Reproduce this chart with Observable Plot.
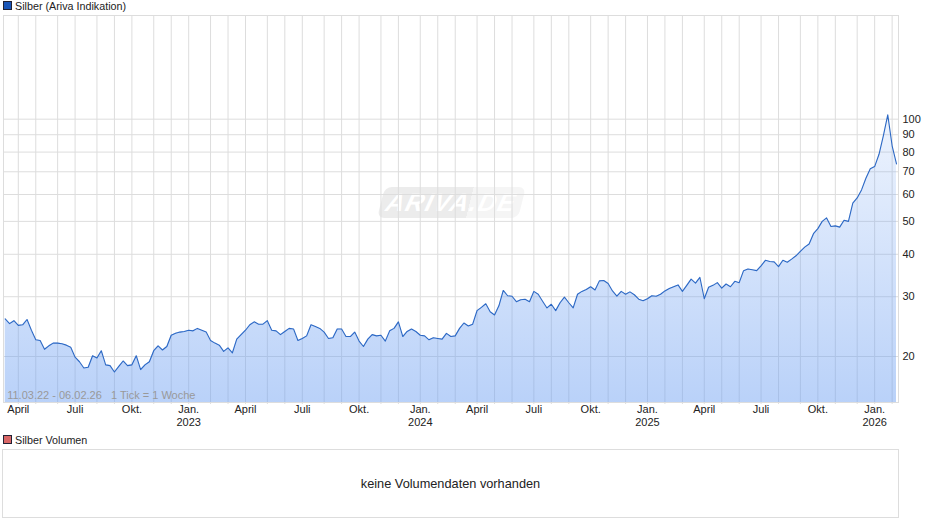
<!DOCTYPE html>
<html lang="de">
<head>
<meta charset="utf-8">
<script src="https://cdn.jsdelivr.net/npm/d3@7"></script>
<script src="https://cdn.jsdelivr.net/npm/@observablehq/plot@0.6"></script>
<style>
html,body{margin:0;padding:0;background:#fff;width:940px;height:526px;overflow:hidden;font-family:"Liberation Sans",Arial,sans-serif;color:#222}
#wrap{position:relative;width:940px;height:526px}
.legend{position:absolute;left:3px;font-size:10.75px;line-height:12px;white-space:nowrap}
.legend i{display:inline-block;width:7px;height:7px;border:1px solid #223;margin-right:3px;vertical-align:0px}
#chart{position:absolute;left:0;top:0}
#vol{position:absolute;left:2px;top:449px;width:895px;height:67px;border:1px solid #ddd;text-align:center;font-size:12.75px;line-height:68px}
#mark{position:absolute;left:381px;top:187px;width:141px;height:31px;transform:skewX(-14deg);border-radius:7px;background:linear-gradient(90deg,#ececec 0,#ececec 63%,#f5f5f5 63%,#f5f5f5 100%);color:#fff;font:italic bold 25px/31px "Liberation Sans",Arial,sans-serif;text-align:center;letter-spacing:1.5px}
</style>
</head>
<body>
<div id="wrap">
<div id="mark">ARIVA.DE</div>
<div id="chart"></div>
<div class="legend" style="top:0px"><i style="background:#1a56b8"></i>Silber (Ariva Indikation)</div>
<div class="legend" style="top:434px"><i style="background:#d96666"></i>Silber Volumen</div>
<div id="vol">keine Volumendaten vorhanden</div>
</div>
<script>
const startDate = "2022-03-11";
const prices = [
25.8,25.0,25.5,24.7,24.8,25.7,23.9,22.4,22.3,21.0,21.5,21.9,21.9,21.8,21.6,21.3,19.9,19.3,18.5,18.6,
20.1,19.8,20.8,18.9,18.8,18.0,18.7,19.4,18.8,18.9,20.1,18.3,18.9,19.3,20.8,21.5,20.9,21.4,23.1,23.4,
23.6,23.7,23.9,23.8,24.2,23.9,23.6,22.3,21.9,21.6,20.7,21.2,20.5,22.5,23.2,23.9,24.8,25.3,24.9,24.9,
25.5,23.9,23.8,23.2,23.7,24.2,24.1,22.3,22.6,23.0,24.8,24.5,24.2,23.6,22.6,22.7,24.1,24.1,22.9,22.9,
23.6,22.2,21.4,22.5,23.2,23.0,23.1,22.2,23.8,24.2,25.3,22.9,23.7,24.1,23.7,23.1,23.0,22.4,22.7,22.6,
22.5,23.4,22.9,23.0,24.2,25.1,24.6,24.9,27.3,27.9,28.6,27.1,26.5,28.2,31.3,30.2,30.1,29.0,29.4,29.5,
29.0,31.1,30.5,29.1,27.8,28.5,27.3,28.8,29.9,28.8,27.8,30.5,31.1,31.5,32.1,31.4,33.4,33.5,32.8,31.2,
30.1,31.1,30.5,31.0,30.4,29.5,29.2,29.6,30.2,30.1,30.5,31.2,31.7,32.1,32.5,31.1,32.4,33.8,32.9,34.2,
29.6,32.0,32.4,33.0,31.8,32.7,32.1,33.3,33.0,35.8,36.2,36.0,35.8,37.0,38.4,38.1,38.0,36.8,38.4,37.9,
38.7,39.6,40.8,42.0,42.9,46.0,47.6,50.0,51.2,48.3,48.5,48.1,50.4,50.0,56.6,58.6,61.9,67.0,71.4,72.5,
78.8,89.5,103.0,83.5,73.8
];
const yTicks = [20,30,40,50,60,70,80,90,100];
const yDomain = [14.64,202];
const monthFirsts = d3.utcMonths(new Date("2022-04-01"), new Date("2026-03-01"));
const quarterNames = {0:"Jan.",3:"April",6:"Juli",9:"Okt."};
const periodText = "11.03.22 - 06.02.26   1 Tick = 1 Woche";

const weeks = prices.map((v,i)=>({date:d3.utcWeek.offset(new Date(startDate+"T00:00:00Z"),i),v}));
// month grid lines sit on the weekly Friday sample of the week holding the 1st
const snap = d => d3.utcFriday.floor(d3.utcDay.offset(d,4));
const monthTicks = monthFirsts.map(d=>({first:d,date:snap(d)}));
const quarterTicks = monthTicks.filter(d=>d.first.getUTCMonth()%3===0);
const yearTicks = monthTicks.filter(d=>d.first.getUTCMonth()===0);

const defs = () => {
  const g = d3.create("svg:defs");
  const lg = g.append("linearGradient").attr("id","areaGrad").attr("x1",0).attr("y1",0).attr("x2",0).attr("y2",1);
  lg.append("stop").attr("offset","0%").attr("stop-color","#6ea0f2").attr("stop-opacity",0.12);
  lg.append("stop").attr("offset","100%").attr("stop-color","#6ea0f2").attr("stop-opacity",0.48);
  return g.node();
};

const chart = Plot.plot({
  width:940, height:430,
  marginTop:15, marginBottom:28, marginLeft:3, marginRight:42,
  style:{background:"transparent",overflow:"visible",fontFamily:"'Liberation Sans',Arial,sans-serif",fontSize:"11px",color:"#222"},
  x:{type:"utc",domain:[weeks[0].date,weeks[weeks.length-1].date],range:[4.7,896]},
  y:{type:"log",domain:yDomain,range:[402,15]},
  marks:[
    defs,
    Plot.ruleX(monthTicks,{x:"date",stroke:"#ddd",strokeWidth:1}),
    Plot.ruleY(yTicks,{stroke:"#ddd",strokeWidth:1}),
    Plot.areaY(weeks,{x:"date",y1:()=>yDomain[0],y2:"v",fill:"url(#areaGrad)"}),
    Plot.line(weeks,{x:"date",y:"v",stroke:"#2c68c4",strokeWidth:1.1}),
    Plot.frame({stroke:"#ddd"}),
    Plot.axisX(monthTicks.map(d=>d.date),{anchor:"bottom",tickSize:2,tickFormat:()=>"",stroke:"#ddd",label:null}),
    Plot.axisY(yTicks,{anchor:"right",tickSize:0,tickPadding:4,tickFormat:d=>String(d),label:null,fill:"#222"}),
    Plot.text(quarterTicks,{x:"date",y:()=>yDomain[0],text:d=>quarterNames[d.first.getUTCMonth()],dy:7,fontSize:11,fill:"#222"}),
    Plot.text(yearTicks,{x:"date",y:()=>yDomain[0],text:d=>String(d.first.getUTCFullYear()),dy:20,fontSize:11,fill:"#222"}),
    Plot.text([periodText],{x:()=>weeks[0].date,y:()=>yDomain[0],text:d=>d,textAnchor:"start",dx:2,dy:-7,fontSize:11,fill:"#999"})
  ]
});
document.getElementById("chart").appendChild(chart);
</script>
</body>
</html>
